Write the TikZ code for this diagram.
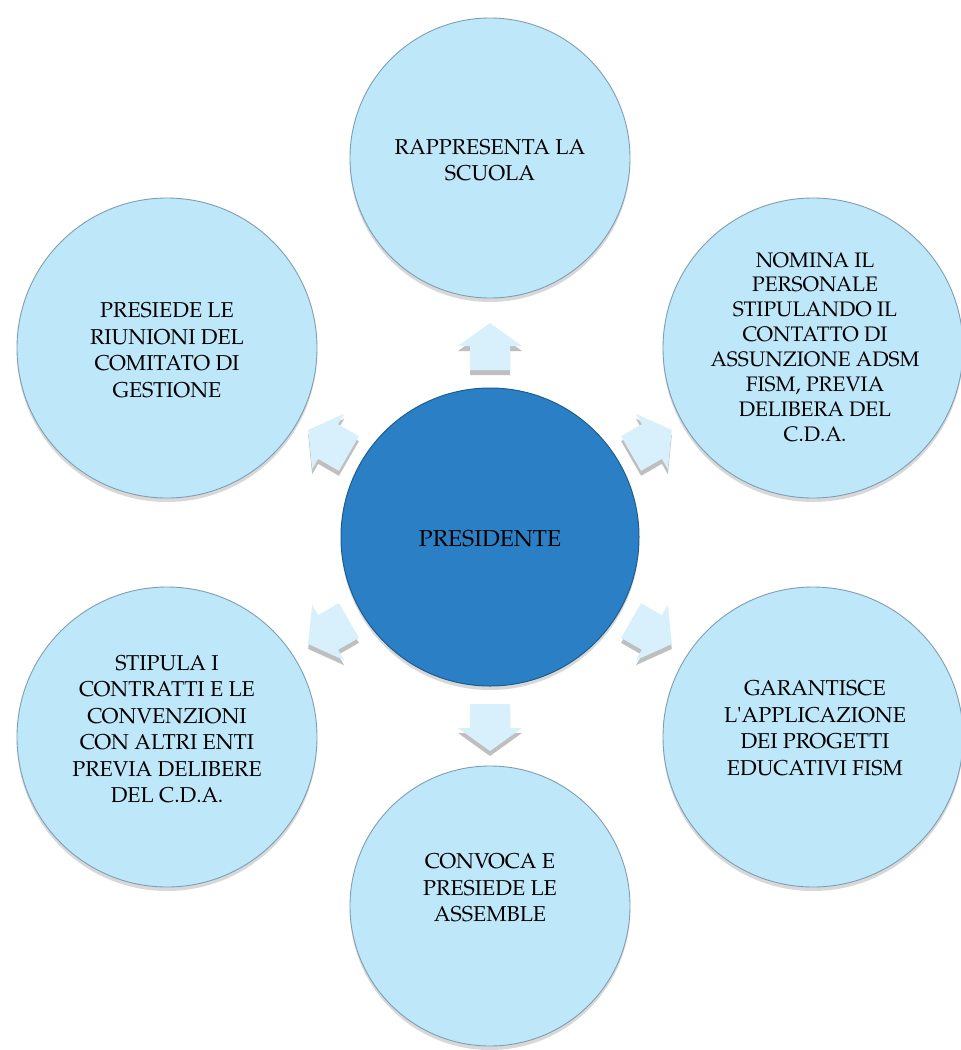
\documentclass[tikz,border=0pt]{standalone}
\usepackage{fontspec}
\setmainfont{TeX Gyre Pagella}
\usetikzlibrary{shadows}
\definecolor{outerfill}{HTML}{BFE7FA}
\definecolor{outerdraw}{HTML}{7E9FB3}
\definecolor{centerfill}{HTML}{2A7FC5}
\definecolor{centerdraw}{HTML}{1E5D8E}
\definecolor{arrowfill}{HTML}{D7F0FC}
\definecolor{arrowshadow}{HTML}{8C8C8C}
\tikzset{
  outer/.style={circle, minimum size=300pt, inner sep=0pt, fill=outerfill,
    draw=outerdraw, line width=0.9pt,
    drop shadow={opacity=0.3, shadow xshift=0pt, shadow yshift=-4pt}},
  outersm/.style={outer, minimum size=280pt},
  inner/.style={circle, minimum size=298pt, inner sep=0pt, fill=centerfill,
    draw=centerdraw, line width=1pt,
    drop shadow={opacity=0.3, shadow xshift=0pt, shadow yshift=-4pt}},
  txt/.style={align=center, inner sep=0pt, text=black, font=\fontsize{21.5}{26.5}\selectfont},
  txtsmall/.style={align=center, inner sep=0pt, text=black, font=\fontsize{21}{24.9}\selectfont},
  txtbig/.style={align=center, inner sep=0pt, text=black, font=\fontsize{23}{27}\selectfont},
  arrowbody/.style={fill=arrowfill},
  arrowshade/.style={fill=arrowshadow, opacity=0.55},
}
\newcommand{\blockarrow}[3]{%
  \begin{scope}[shift={(#1,#2+5)}, rotate=#3]
    \path[arrowshade] (-23,-20) -- (1,-20) -- (1,-32) -- (24,0) -- (1,32) -- (1,20) -- (-23,20) -- cycle;
  \end{scope}
  \begin{scope}[shift={(#1,#2)}, rotate=#3]
    \path[arrowbody] (-23,-20) -- (1,-20) -- (1,-32) -- (24,0) -- (1,32) -- (1,20) -- (-23,20) -- cycle;
  \end{scope}}
\begin{document}
\begin{tikzpicture}[x=1pt, y=-1pt]
  \useasboundingbox[fill=white] (0,0) rectangle (961,1050);
  % outer circles
  \node[outersm] (top) at (490,158) {};
  \node[outer] (tl) at (167,348) {};
  \node[outer] (tr) at (813,348) {};
  \node[outer] (bl) at (167,737) {};
  \node[outer] (br) at (813,737) {};
  \node[outersm] (bot) at (490,906) {};
  % center
  \node[inner] (pres) at (490,537) {};
  % arrows
  \blockarrow{490}{347}{90}
  \blockarrow{329}{442}{150}
  \blockarrow{329}{632}{210}
  \blockarrow{490}{727}{270}
  \blockarrow{651}{632}{330}
  \blockarrow{651}{442}{30}
  % texts
  \node[txt] (ttop) at (490,160) {RAPPRESENTA LA\\SCUOLA};
  \node[txt] (ttl) at (167,350) {PRESIEDE LE\\RIUNIONI DEL\\COMITATO DI\\GESTIONE};
  \node[txtsmall] (ttr) at (815,347) {NOMINA IL\\PERSONALE\\STIPULANDO IL\\CONTATTO DI\\ASSUNZIONE ADSM\\FISM, PREVIA\\DELIBERA DEL\\C.D.A.};
  \node[txt] (tbl) at (167,729) {STIPULA I\\CONTRATTI E LE\\CONVENZIONI\\CON ALTRI ENTI\\PREVIA DELIBERE\\DEL C.D.A.};
  \node[txt] (tbr) at (815,728) {GARANTISCE\\L\textquotesingle APPLICAZIONE\\DEI PROGETTI\\EDUCATIVI FISM};
  \node[txt] (tbot) at (490,888) {CONVOCA E\\PRESIEDE LE\\ASSEMBLE};
  \node[txtbig] (tpres) at (490,539) {PRESIDENTE};
\end{tikzpicture}
\end{document}
